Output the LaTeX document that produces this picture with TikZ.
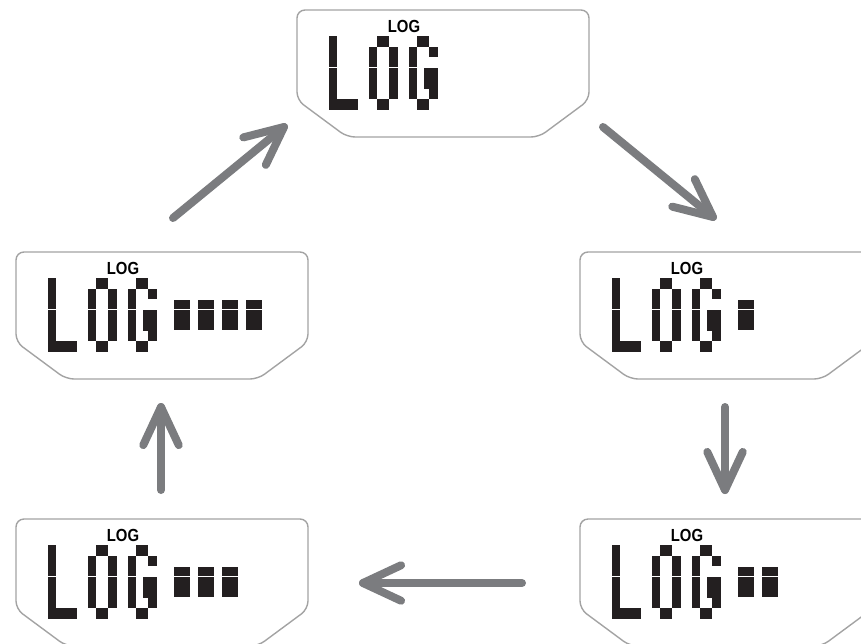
\documentclass[tikz,border=0pt]{standalone}
\usepackage{fontspec}
\newfontfamily\lcdfont{Liberation Sans}[FakeStretch=0.85]
\usetikzlibrary{calc}
\definecolor{framegray}{HTML}{A3A3A3}
\definecolor{arrowgray}{HTML}{7B7C7F}
\definecolor{segblack}{HTML}{231F20}
\newcommand\sg[4]{\fill[seg] (#1,#2) rectangle (#3,#4);}
\tikzset{
  lcdframe/.style={draw=framegray, line width=1.4pt, rounded corners=8pt},
  seg/.style={fill=segblack},
  flow/.style={draw=arrowgray, line width=8pt, line cap=round, line join=round},
  lcdlabel/.style={font=\lcdfont\bfseries\fontsize{17.5pt}{17.5pt}\selectfont, inner sep=0pt, anchor=base},
  lcd/.pic={
    \draw[lcdframe] (0,50) -- (0,90) -- (50,127) -- (242,127) -- (292,90) -- (292,0) -- (0,0) -- cycle;
    \node[lcdlabel] (-lbl) at (107,22) {LOG};
    \begin{scope}[shift={(31.5,26)}]
      % L
      \sg{0}{0}{8.5}{31.3}
      \sg{0}{32.1}{8.5}{52.5}
      \sg{0}{53.3}{8.5}{74}
      \sg{8.5}{63.43}{29}{74}
      % O
      \sg{48.5}{0}{60.5}{10.57}
      \sg{40}{10.57}{48.5}{31.3}
      \sg{40}{32.1}{48.5}{52.5}
      \sg{40}{53.3}{48.5}{63.43}
      \sg{60.5}{10.57}{69}{31.3}
      \sg{60.5}{32.1}{69}{52.5}
      \sg{60.5}{53.3}{69}{63.43}
      \sg{48.5}{63.43}{60.5}{74}
      % G
      \sg{88.5}{0}{100.5}{10.57}
      \sg{100.5}{10.57}{109}{21.14}
      \sg{80}{10.57}{88.5}{31.3}
      \sg{80}{32.1}{88.5}{52.5}
      \sg{80}{53.3}{88.5}{63.43}
      \sg{95.5}{32.1}{109}{52.5}
      \sg{100.5}{53.3}{109}{63.43}
      \sg{88.5}{63.43}{100.5}{74}
    \end{scope}
    \ifnum#1>0
      \foreach \k [evaluate=\k as \bx using 158+24*(\k-1)] in {1,...,#1}{
        \fill[seg] (\bx,47.6) rectangle (\bx+16,57.2);
        \fill[seg] (\bx,58.2) rectangle (\bx+16,78.4);
      }
    \fi
  }
}
\begin{document}
\begin{tikzpicture}[x=1pt,y=-1pt]
  \useasboundingbox (0,0) rectangle (861,643);
  \pic (A) at (297,10) {lcd=0};
  \pic (B) at (580,252) {lcd=1};
  \pic (C) at (580,519) {lcd=2};
  \pic (D) at (16,519) {lcd=3};
  \pic (E) at (16,252) {lcd=4};

  \coordinate (ea) at (173,218); \coordinate (eb) at (284,127);
  \coordinate (ab1) at (603,127); \coordinate (ab2) at (713,217);
  \coordinate (bc1) at (725,407); \coordinate (bc2) at (725,490);
  \coordinate (cd1) at (522,583); \coordinate (cd2) at (363,583);
  \coordinate (de1) at (161,490); \coordinate (de2) at (161,407);

  \foreach \s/\t in {ea/eb, ab1/ab2, bc1/bc2, cd1/cd2, de1/de2}{
    \draw[flow] (\s) -- (\t);
    \draw[flow] ($(\t)!42pt!25:(\s)$) -- (\t) -- ($(\t)!42pt!-25:(\s)$);
  }
\end{tikzpicture}
\end{document}
